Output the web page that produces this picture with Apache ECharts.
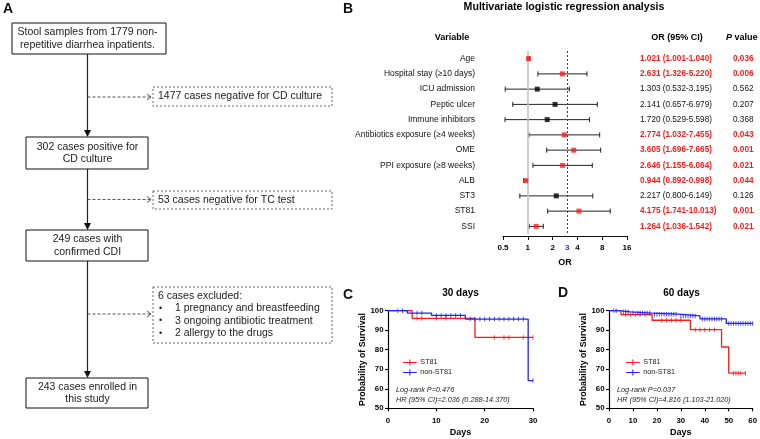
<!DOCTYPE html>
<html>
<head>
<meta charset="utf-8">
<script src="https://cdn.jsdelivr.net/npm/echarts@6/dist/echarts.min.js"></script>
<style>
  html, body { margin: 0; padding: 0; background: #fff; }
  #main { width: 760px; height: 439px; }
</style>
</head>
<body>
<div id="main"></div>
<script>
var FONT = 'Arial, "Liberation Sans", sans-serif';
var RED = '#ff1a1a';
var BLUE = '#2222ff';

// ---- panel A : flow chart text
var flowMain = [
  ['Stool samples from 1779 non-', 'repetitive diarrhea inpatients.'],
  ['302 cases positive for', 'CD culture'],
  ['249 cases with', 'confirmed CDI'],
  ['243 cases enrolled in', 'this study']
];
var flowSide = [
  ['1477 cases negative for CD culture'],
  ['53 cases negative for TC test'],
  ['6 cases excluded:', '1 pregnancy and breastfeeding', '3 ongoing antibiotic treatment', '2 allergy to the drugs']
];

// ---- panel B : multivariate logistic regression
var variables = ['Age', 'Hospital stay (\u226510 days)', 'ICU admission', 'Peptic ulcer', 'Immune inhibitors',
  'Antibiotics exposure (\u22654 weeks)', 'OME', 'PPI exposure (\u22658 weeks)', 'ALB', 'ST3', 'ST81', 'SSI'];
var orValue = [1.021, 2.631, 1.303, 2.141, 1.720, 2.774, 3.605, 2.646, 0.944, 2.217, 4.175, 1.264];
var orLow   = [1.001, 1.326, 0.532, 0.657, 0.529, 1.032, 1.696, 1.155, 0.892, 0.800, 1.741, 1.036];
var orHigh  = [1.040, 5.220, 3.195, 6.979, 5.598, 7.455, 7.665, 6.064, 0.998, 6.149, 10.013, 1.542];
var orText = ['1.021 (1.001-1.040)', '2.631 (1.326-5.220)', '1.303 (0.532-3.195)', '2.141 (0.657-6.979)',
  '1.720 (0.529-5.598)', '2.774 (1.032-7.455)', '3.605 (1.696-7.665)', '2.646 (1.155-6.064)',
  '0.944 (0.892-0.998)', '2.217 (0.800-6.149)', '4.175 (1.741-10.013)', '1.264 (1.036-1.542)'];
var pText = ['0.036', '0.006', '0.562', '0.207', '0.368', '0.043', '0.001', '0.021', '0.044', '0.126', '0.001', '0.021'];
var sig = pText.map(function (p) { return parseFloat(p) < 0.05; });

// ---- panel C : 30 days survival
var st81Days30 = [[0, 100], [5, 96.1], [18, 86.3], [30, 86.3]];
var nonDays30 = [[0, 100], [4, 98.8], [9, 97.6], [16, 95.7], [29, 64.2], [30, 64.2]];
var st81Cens30 = [2, 6, 7, 10, 12, 22, 24, 25, 28, 30];
var nonCens30 = [3, 6, 7, 10, 11, 12, 13, 14, 15, 17, 18, 19, 20, 21, 22, 23, 24, 25, 26, 27, 28, 30];

// ---- panel D : 60 days survival
var st81Days60 = [[0, 100], [5, 98.0], [18, 95.1], [34, 90.3], [47, 81.4], [50, 68.0], [57, 68.0]];
var nonDays60 = [[0, 100], [4, 99.4], [9, 98.8], [18, 98.2], [29, 97.3], [38, 95.8], [49, 93.5], [60, 93.5]];
var st81Cens60 = [2, 7, 9, 11, 13, 15, 22, 24, 26, 28, 30, 36, 38, 40, 42, 44, 52, 53, 54, 55, 57];
var nonCens60 = [3, 6, 7, 8, 10, 12, 13, 14, 15, 16, 17, 19, 20, 21, 22, 23, 24, 25, 26, 27, 28, 30, 31, 32, 33,
  34, 35, 36, 39, 40, 41, 42, 43, 44, 45, 46, 47, 50, 51, 52, 53, 54, 55, 56, 57, 58, 59, 60];

// survival level of a step curve at a given day
function levelAt(curve, day) {
  var v = curve[0][1];
  for (var i = 0; i < curve.length; i++) {
    if (curve[i][0] <= day) v = curve[i][1];
  }
  return v;
}
function censPoints(curve, days) {
  return days.map(function (d) { return [d, levelAt(curve, d)]; });
}

function txt(x, y, text, opt) {
  var st = {
    text: text, fill: '#000', fontSize: 10.5, fontFamily: FONT,
    align: 'left', verticalAlign: 'middle'
  };
  for (var k in opt) st[k] = opt[k];
  return { type: 'text', x: x, y: y, silent: true, style: st };
}
function line(x1, y1, x2, y2, st) {
  return { type: 'line', silent: true, shape: { x1: x1, y1: y1, x2: x2, y2: y2 }, style: st };
}

// ---- graphic: flow chart + headings
var graphics = [];
var cx = 87.5;
var mainBox = [[12, 23, 154, 31], [26, 137, 122, 32], [26, 230, 122, 31], [26, 378, 122, 30]];
mainBox.forEach(function (b, i) {
  graphics.push({ type: 'rect', silent: true, shape: { x: b[0], y: b[1], width: b[2], height: b[3] },
    style: { fill: '#fff', stroke: '#111', lineWidth: 1 } });
  var lh = 12.4;
  var y0 = b[1] + b[3] / 2 - lh / 2;
  flowMain[i].forEach(function (t, j) {
    graphics.push(txt(cx, y0 + j * lh, t, { align: 'center', fill: '#222' }));
  });
  if (i < mainBox.length - 1) {
    var nb = mainBox[i + 1];
    graphics.push(line(cx, b[1] + b[3], cx, nb[1] - 6, { stroke: '#222', lineWidth: 1.2 }));
    graphics.push({ type: 'polygon', silent: true,
      shape: { points: [[cx - 3.5, nb[1] - 7], [cx + 3.5, nb[1] - 7], [cx, nb[1]]] },
      style: { fill: '#111' } });
  }
});
var sideBox = [[153, 87, 179, 19], [153, 191, 179, 18], [153, 287, 179, 56]];
var sideY = [97, 199.5, 314];
sideBox.forEach(function (b, i) {
  graphics.push({ type: 'rect', silent: true, shape: { x: b[0], y: b[1], width: b[2], height: b[3] },
    style: { fill: '#fff', stroke: '#666', lineWidth: 1, lineDash: [2, 2] } });
  graphics.push(line(cx, sideY[i], b[0] - 2, sideY[i], { stroke: '#555', lineWidth: 1, lineDash: [3, 2] }));
  graphics.push({ type: 'polyline', silent: true,
    shape: { points: [[b[0] - 6, sideY[i] - 3], [b[0] - 2, sideY[i]], [b[0] - 6, sideY[i] + 3]] },
    style: { stroke: '#555', lineWidth: 1, fill: null } });
  if (flowSide[i].length === 1) {
    graphics.push(txt(158, b[1] + b[3] / 2, flowSide[i][0], { fill: '#222' }));
  } else {
    graphics.push(txt(158, 296, flowSide[i][0], { fill: '#222' }));
    for (var j = 1; j < flowSide[i].length; j++) {
      var yy = 296 + j * 12.4;
      graphics.push(txt(160.5, yy, '\u2022', { align: 'center', fill: '#222', fontSize: 9 }));
      graphics.push(txt(175, yy, flowSide[i][j], { fill: '#222' }));
    }
  }
});

var letterStyle = { fontSize: 14, fontWeight: 'bold', fill: '#111' };
graphics.push(txt(3, 9, 'A', letterStyle));
graphics.push(txt(343, 9, 'B', letterStyle));
graphics.push(txt(343, 295, 'C', letterStyle));
graphics.push(txt(558, 293, 'D', letterStyle));

graphics.push(txt(564, 7.5, 'Multivariate logistic regression analysis', { align: 'center', fontSize: 10.6, fontWeight: 'bold' }));
graphics.push(txt(452, 38, 'Variable', { align: 'center', fontSize: 9, fontWeight: 'bold' }));
graphics.push(txt(677, 38, 'OR (95% CI)', { align: 'center', fontSize: 9, fontWeight: 'bold' }));
graphics.push(txt(726, 38, '{i|P} value', { fontSize: 9, fontWeight: 'bold',
  rich: { i: { fontStyle: 'italic', fontWeight: 'bold', fontSize: 9, fontFamily: FONT } } }));

graphics.push(txt(460.5, 293, '30 days', { align: 'center', fontSize: 10, fontWeight: 'bold' }));
graphics.push(txt(681.5, 293, '60 days', { align: 'center', fontSize: 10, fontWeight: 'bold' }));

var noteStyle = { fontSize: 7.3, fontStyle: 'italic', fill: '#222' };
graphics.push(txt(396, 390, 'Log-rank P=0.476', noteStyle));
graphics.push(txt(396, 399.5, 'HR (95% CI)=2.036 (0.288-14.370)', noteStyle));
graphics.push(txt(617, 390, 'Log-rank P=0.037', noteStyle));
graphics.push(txt(617, 399.5, 'HR (95% CI)=4.816 (1.103-21.020)', noteStyle));

// ---- axes helpers
function kmX(grid, max) {
  return {
    type: 'value', gridIndex: grid, min: 0, max: max, interval: 10,
    axisLine: { show: true, onZero: false, lineStyle: { color: '#000', width: 1.2 } },
    axisTick: { show: true, length: 3, lineStyle: { color: '#000', width: 1.2 } },
    axisLabel: { color: '#000', fontWeight: 'bold', fontSize: 7.8, fontFamily: FONT, margin: 9 },
    splitLine: { show: false },
    name: 'Days', nameLocation: 'middle', nameGap: 20,
    nameTextStyle: { color: '#000', fontWeight: 'bold', fontSize: 9, fontFamily: FONT }
  };
}
function kmY(grid) {
  return {
    type: 'value', gridIndex: grid, min: 50, max: 100, interval: 10,
    axisLine: { show: true, onZero: false, lineStyle: { color: '#000', width: 1.2 } },
    axisTick: { show: true, length: 3, lineStyle: { color: '#000', width: 1.2 } },
    axisLabel: { color: '#000', fontWeight: 'bold', fontSize: 7.8, fontFamily: FONT, margin: 4.5 },
    splitLine: { show: false },
    name: 'Probability of Survival', nameLocation: 'middle', nameGap: 17.5,
    nameTextStyle: { color: '#000', fontWeight: 'bold', fontSize: 8.8, fontFamily: FONT }
  };
}
function stepSeries(name, data, color, x, y) {
  return { name: name, type: 'line', step: 'end', xAxisIndex: x, yAxisIndex: y, data: data,
    showSymbol: false, symbol: 'none', color: color, lineStyle: { color: color, width: 1.3 }, z: 3 };
}
function censSeries(name, data, color, x, y) {
  return { name: name, type: 'scatter', xAxisIndex: x, yAxisIndex: y, data: data,
    symbol: 'rect', symbolSize: [1, 4.5], itemStyle: { color: color }, z: 4 };
}
var legendIcon = 'path://M0,4.3H16V5.7H0Z M7.4,1.5H8.6V8.5H7.4Z';
function kmLegend(left) {
  return {
    left: left, top: 354, orient: 'vertical', itemGap: 3, itemWidth: 15, itemHeight: 6,
    textStyle: { fontSize: 7.2, color: '#222', fontFamily: FONT, padding: [0, 0, 0, -2] },
    data: [{ name: 'ST81', icon: legendIcon }, { name: 'non-ST81', icon: legendIcon }],
    selectedMode: false
  };
}

var rightLabel = function (val, i) { return sig[i] ? '{s|' + val + '}' : '{n|' + val + '}'; };
var richCols = {
  s: { color: RED, fontWeight: 'bold', fontSize: 8.2, fontFamily: FONT },
  n: { color: '#111', fontSize: 8.2, fontFamily: FONT }
};

var option = {
  animation: false,
  backgroundColor: '#fff',
  grid: [
    { left: 503, top: 51, width: 124, height: 183 },
    { left: 388, top: 310.7, width: 145, height: 97.6 },
    { left: 609, top: 310.7, width: 145, height: 97.6 }
  ],
  legend: [kmLegend(398), kmLegend(621)],
  xAxis: [
    {
      type: 'log', logBase: 2, gridIndex: 0, min: 0.5, max: 16, splitNumber: 5, offset: 2,
      axisLine: { show: true, onZero: false, lineStyle: { color: '#111', width: 1 } },
      axisTick: { show: true, length: 4, lineStyle: { color: '#111' } },
      axisLabel: { color: '#000', fontWeight: 'bold', fontSize: 8, fontFamily: FONT, margin: 8 },
      splitLine: { show: false }, minorTick: { show: false },
      name: 'OR', nameLocation: 'middle', nameGap: 22,
      nameTextStyle: { color: '#000', fontWeight: 'bold', fontSize: 9, fontFamily: FONT }
    },
    kmX(1, 30),
    kmX(2, 60)
  ],
  yAxis: [
    {
      type: 'category', gridIndex: 0, inverse: true, data: variables,
      axisLine: { show: false }, axisTick: { show: false },
      axisLabel: { interval: 0, color: '#111', fontSize: 8.5, fontFamily: FONT, margin: 28 }
    },
    {
      type: 'category', gridIndex: 0, inverse: true, position: 'right', offset: 0, data: orText,
      axisLine: { show: false }, axisTick: { show: false },
      axisLabel: { interval: 0, margin: 13, formatter: rightLabel, rich: richCols }
    },
    {
      type: 'category', gridIndex: 0, inverse: true, position: 'right', offset: 93, data: pText,
      axisLine: { show: false }, axisTick: { show: false },
      axisLabel: { interval: 0, margin: 13, formatter: rightLabel, rich: richCols }
    },
    kmY(1),
    kmY(2)
  ],
  series: [
    {
      type: 'custom', xAxisIndex: 0, yAxisIndex: 0, z: 2,
      data: variables.map(function (v, i) { return [orLow[i], orHigh[i], i]; }),
      encode: { x: [0, 1], y: 2 },
      renderItem: function (params, api) {
        var row = api.value(2);
        var a = api.coord([api.value(0), row]);
        var b = api.coord([api.value(1), row]);
        var st = { stroke: '#222', lineWidth: 1 };
        return { type: 'group', children: [
          { type: 'line', shape: { x1: a[0], y1: a[1], x2: b[0], y2: b[1] }, style: st },
          { type: 'line', shape: { x1: a[0], y1: a[1] - 2.5, x2: a[0], y2: a[1] + 2.5 }, style: st },
          { type: 'line', shape: { x1: b[0], y1: b[1] - 2.5, x2: b[0], y2: b[1] + 2.5 }, style: st }
        ] };
      }
    },
    {
      type: 'scatter', xAxisIndex: 0, yAxisIndex: 0, z: 5,
      symbol: 'rect', symbolSize: 5,
      data: variables.map(function (v, i) { return [orValue[i], i]; }),
      itemStyle: { color: function (p) { return sig[p.dataIndex] ? RED : '#000'; } },
      markLine: {
        silent: true, symbol: 'none', animation: false,
        label: { show: false },
        data: [
          { xAxis: 1, lineStyle: { color: '#c4c4c4', width: 1.6, type: 'solid' } },
          { xAxis: 3, lineStyle: { color: '#2a2aff', width: 1, type: [2, 2] } }
        ]
      }
    },
    stepSeries('ST81', st81Days30, RED, 1, 3),
    stepSeries('non-ST81', nonDays30, BLUE, 1, 3),
    censSeries('ST81', censPoints(st81Days30, st81Cens30), RED, 1, 3),
    censSeries('non-ST81', censPoints(nonDays30, nonCens30), BLUE, 1, 3),
    stepSeries('ST81', st81Days60, RED, 2, 4),
    stepSeries('non-ST81', nonDays60, BLUE, 2, 4),
    censSeries('ST81', censPoints(st81Days60, st81Cens60), RED, 2, 4),
    censSeries('non-ST81', censPoints(nonDays60, nonCens60), BLUE, 2, 4)
  ],
  graphic: { elements: graphics }
};

var chart = echarts.init(document.getElementById('main'));
chart.setOption(option);

// blue "3" reference tick label placed through the OR axis scale
var px3 = chart.convertToPixel({ xAxisIndex: 0 }, 3);
graphics.push(txt(px3, 248, '3', { align: 'center', fontSize: 8, fontWeight: 'bold', fill: '#2a2aff' }));
chart.setOption({ graphic: { elements: graphics } });
</script>
</body>
</html>
